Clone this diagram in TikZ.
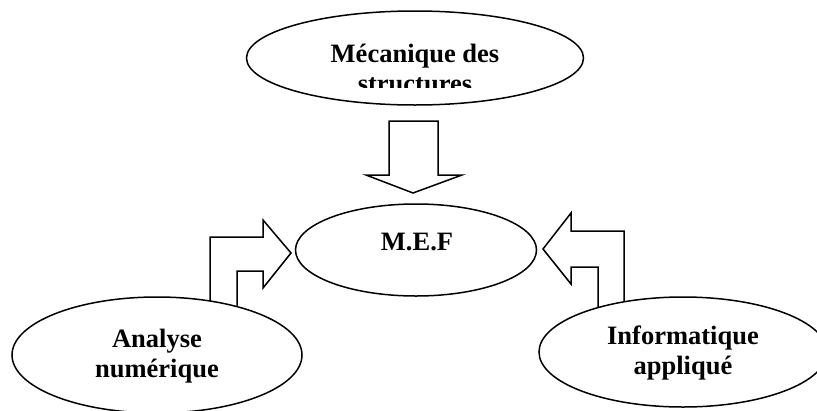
\documentclass[tikz,border=0pt]{standalone}
\usepackage{fontspec}
\setmainfont{Liberation Serif}
\usetikzlibrary{shapes.geometric}

\tikzset{every picture/.style={line width=1.5pt}}
\tikzset{bubble/.style={draw, ellipse, fill=white, inner sep=0pt},
  lbl/.style={inner sep=0pt, align=center, font=\bfseries\fontsize{26.5}{30}\selectfont},
  blockarrow/.style={draw, fill=white, line join=miter}}

\begin{document}
\begin{tikzpicture}[x=1pt,y=1pt,yscale=-1,xscale=1]
\useasboundingbox (0,0) rectangle (817,410);

%Shape: Down Arrow
\draw [blockarrow] (389,121) -- (438,121) -- (438,175) -- (462,175) -- (413,193) -- (366,175) -- (389,175) -- cycle ;
%Shape: Bent Arrow (left)
\draw [blockarrow] (210,330) -- (210,237) -- (263,237) -- (263,220) -- (291,253) -- (263,288) -- (263,271) -- (237,271) -- (237,330) ;
%Shape: Bent Arrow (right)
\draw [blockarrow] (624,330) -- (624,231) -- (571,231) -- (571,213) -- (543,249) -- (571,284) -- (571,267) -- (598,267) -- (598,330) ;

%Shape: Ellipse
\node [bubble, minimum width=337, minimum height=94] (meca) at (415,58) {};
%Shape: Ellipse
\node [bubble, minimum width=241, minimum height=92] (mef) at (416,250) {};
%Shape: Ellipse
\node [bubble, minimum width=290, minimum height=116] (analyse) at (157,355) {};
%Shape: Ellipse
\node [bubble, minimum width=288, minimum height=110] (info) at (683,352) {};

% Text Node
\begin{scope}
\clip (247,0) rectangle (584,87);
\node [lbl] (mecatxt) at (415,68) {Mécanique des\\structures};
\end{scope}
% Text Node
\node [lbl] (meftxt) at (417,242) {M.E.F};
% Text Node
\node [lbl] (analysetxt) at (157,356) {Analyse\\numérique};
% Text Node
\node [lbl] (infotxt) at (683,353) {Informatique\\appliqué};

\end{tikzpicture}
\end{document}
